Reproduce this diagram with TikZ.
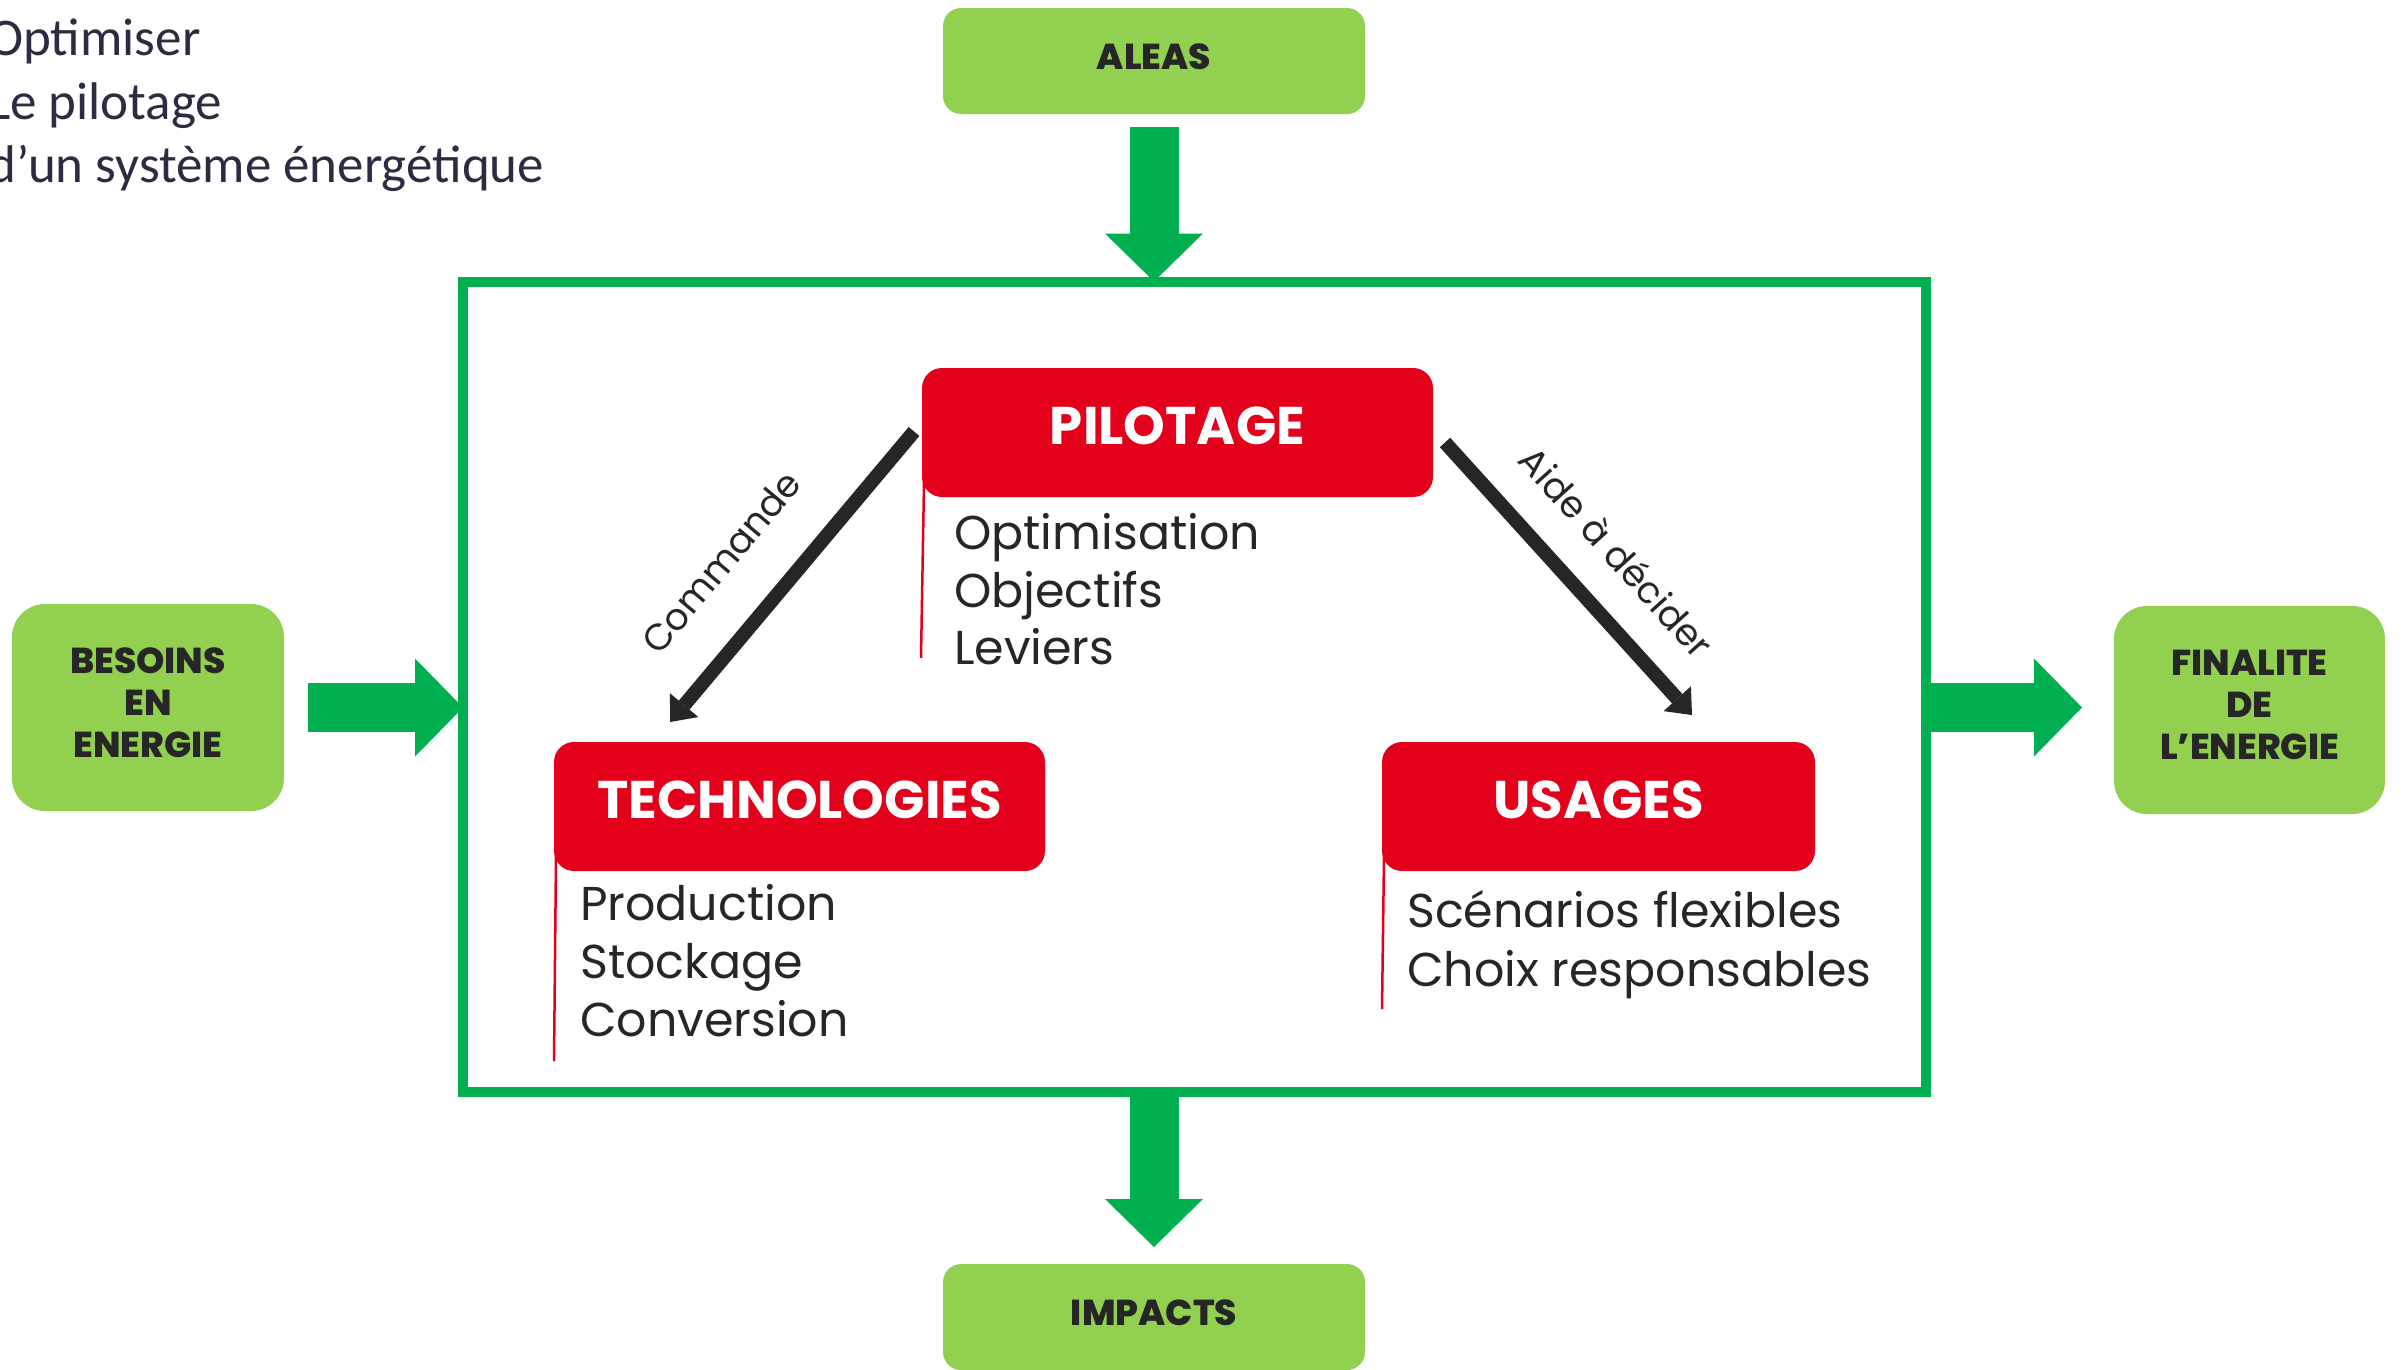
\documentclass[tikz,border=0pt]{standalone}
\usepackage{fontspec}
\usetikzlibrary{arrows.meta,calc}
\newfontfamily\popfont{Poppins}
\newfontfamily\popxb{Poppins ExtraBold}
\newfontfamily\ttlfont{Carlito}
\definecolor{lgreen}{HTML}{92D050}
\definecolor{dgreen}{HTML}{00B050}
\definecolor{pred}{HTML}{E2001A}
\definecolor{ink}{HTML}{262626}
\definecolor{navy}{HTML}{2B2B42}
\begin{document}
\begin{tikzpicture}[x=1pt,y=-1pt,
  gbox/.style={fill=lgreen, text=ink, font=\popxb\fontsize{36}{42}\selectfont, align=center, inner sep=0pt, outer sep=0pt},
  rbox/.style={fill=pred, rounded corners=20pt, text=white, font=\popfont\bfseries\fontsize{53}{60}\selectfont, inner sep=0pt, outer sep=0pt, minimum height=129pt, text height=37pt, text depth=14pt},
  item/.style={font=\popfont\fontsize{47.5}{57}\selectfont, text=ink, anchor=base west, inner sep=0pt},
  ttl/.style={font=\ttlfont\fontsize{53}{64}\selectfont, text=navy, anchor=base west, inner sep=0pt},
  lbl/.style={font=\popfont\fontsize{37}{42}\selectfont, text=ink, inner sep=0pt},
  garrow/.style={draw=dgreen, line width=49pt, -{Triangle[width=98pt,length=48pt,line width=0pt]}},
  darrow/.style={draw=ink, line width=14pt, -{Triangle[width=37pt,length=22pt,line width=0pt]}},
  redline/.style={draw=pred, line width=2.5pt}
]
\useasboundingbox (0,0) rectangle (2405,1369);
% title
\node[ttl] (t1) at (-12,55) {Optimiser};
\node[ttl] (t2) at (-12,119) {Le pilotage};
\node[ttl] (t3) at (-12,182) {d’un système énergétique};
% frame
\node[draw=dgreen, line width=10pt, minimum width=1463pt, minimum height=810pt, inner sep=0pt, outer sep=0pt] (frame) at (1194.5,686.5) {};
% green boxes
\node[gbox, rounded corners=18pt, minimum width=422pt, minimum height=106pt] (aleas) at (1154,61) {ALEAS\vphantom{p}};
\node[gbox, rounded corners=18pt, minimum width=422pt, minimum height=106pt] (impacts) at (1154,1317) {IMPACTS\vphantom{p}};
\node[gbox, rounded corners=33pt, minimum width=272pt, minimum height=207pt] (besoins) at (148,707.5) {BESOINS\\EN\\ENERGIE\vphantom{p}};
\node[gbox, rounded corners=33pt, minimum width=271pt, minimum height=208pt] (finalite) at (2249.5,710) {FINALITE\\DE\\L’ENERGIE\vphantom{p}};
% green arrows
\draw[garrow] ($(aleas.south)+(0,13)$) -- (aleas.south |- frame.north);
\draw[garrow] (impacts.north |- frame.south) -- ($(impacts.north)+(0,-17)$);
\draw[garrow] ($(besoins.east)+(24,0)$) -- (besoins.east -| frame.west);
\draw[garrow] (frame.east |- besoins.east) -- ($(finalite.west |- besoins.east)+(-32,0)$);
% red boxes
\node[rbox, minimum width=511pt] (pilot) at (1177.5,432.5) {PILOTAGE};
\node[rbox, minimum width=491pt] (tech) at (799.5,806.5) {TECHNOLOGIES};
\node[rbox, minimum width=433pt] (usages) at (1598.5,806.5) {USAGES};
% red lines
\draw[redline] ($(pilot.south west)+(2,-15)$) -- ($(pilot.south west)+(-1,161)$);
\draw[redline] ($(tech.south west)+(2,-15)$) -- ($(tech.south west)+(0,190)$);
\draw[redline] ($(usages.south west)+(2,-15)$) -- ($(usages.south west)+(0,138)$);
% items
\node[item] (p1) at ($(pilot.south west)+(32,52)$) {Optimisation};
\node[item] (p2) at ($(pilot.south west)+(32,110)$) {Objectifs};
\node[item] (p3) at ($(pilot.south west)+(32,167)$) {Leviers};
\node[item] (te1) at ($(tech.south west)+(26,49)$) {Production};
\node[item] (te2) at ($(tech.south west)+(26,107)$) {Stockage};
\node[item] (te3) at ($(tech.south west)+(26,165)$) {Conversion};
\node[item] (u1) at ($(usages.south west)+(25,56)$) {Scénarios flexibles};
\node[item] (u2) at ($(usages.south west)+(25,115)$) {Choix responsables};
% dark arrows
\coordinate (cs) at ($(pilot.west)+(-8,-1)$);
\coordinate (ce) at ($(tech.north west)+(116,-20)$);
\coordinate (as) at ($(pilot.east)+(12,10)$);
\coordinate (ae) at ($(usages.north east)+(-123,-27)$);
\draw[darrow] (cs) -- (ce);
\draw[darrow] (as) -- (ae);
\node[lbl, rotate=50] (lc) at (721,562) {Commande};
\node[lbl, rotate=-48] (la) at (1617,552) {Aide à décider};
\end{tikzpicture}
\end{document}
